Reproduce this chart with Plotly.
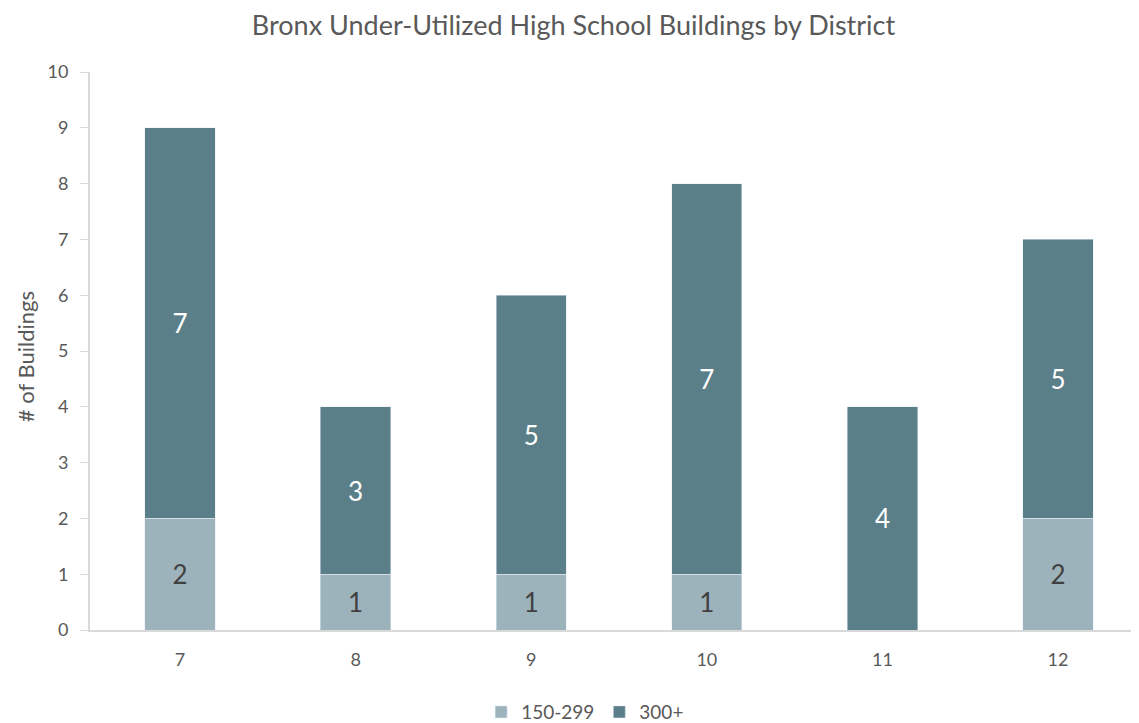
import plotly.graph_objects as go

districts = ["7", "8", "9", "10", "11", "12"]
small = [2, 1, 1, 1, 0, 2]      # 150-299
large = [7, 3, 5, 7, 4, 5]      # 300+
yticks = list(range(0, 11))

font_family = "Lato, 'Open Sans', sans-serif"
light = "#9db3bb"
dark = "#5b7f89"
grey = "#595959"

fig = go.Figure()
fig.add_trace(go.Bar(
    x=districts, y=small, name="150-299", marker_color=light,
    text=[str(v) if v else "" for v in small], textposition="inside",
    insidetextanchor="middle", textfont=dict(size=26, color="#404040", family=font_family),
))
fig.add_trace(go.Bar(
    x=districts, y=large, name="300+", marker_color=dark,
    text=[str(v) if v else "" for v in large], textposition="inside",
    insidetextanchor="middle", textfont=dict(size=26, color="white", family=font_family),
))
fig.update_layout(
    barmode="stack", bargap=0.6,
    width=1131, height=715,
    paper_bgcolor="white", plot_bgcolor="white",
    margin=dict(l=82, r=0, t=64, b=93, autoexpand=False),
    font=dict(family=font_family, color=grey),
    title=dict(text="Bronx Under-Utilized High School Buildings by District",
               x=0.5, xanchor="center", y=0.975, yanchor="middle",
               font=dict(size=27, color=grey, family=font_family)),
    legend=dict(orientation="h", x=0.472, xanchor="center", y=-0.147, yanchor="middle",
                font=dict(size=19, color=grey), traceorder="normal"),
    uniformtext=dict(mode="show", minsize=10),
    annotations=[dict(text="# of Buildings", xref="paper", yref="paper",
                      x=(25 - 90) / 1049, y=0.489, xanchor="center", yanchor="middle",
                      textangle=-90, showarrow=False, font=dict(size=22, color=grey))],
)
fig.update_xaxes(showline=True, linecolor="#d9d9d9", linewidth=2, ticks="",
                 range=[-0.5125, 5.461], automargin=False, ticklabelstandoff=12,
                 tickfont=dict(size=18, color=grey), showgrid=False)
fig.update_yaxes(range=[0, 10], tickvals=yticks, showline=True, linecolor="#d9d9d9",
                 linewidth=2, ticks="outside", ticklen=8, tickcolor="#d9d9d9",
                 automargin=False, ticklabelstandoff=8,
                 tickfont=dict(size=18, color=grey), showgrid=False, zeroline=False)
fig.write_html("out.html")
